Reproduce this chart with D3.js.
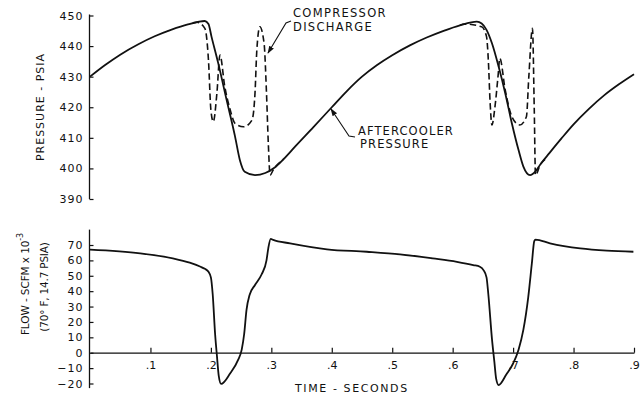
<!DOCTYPE html>
<html>
<head>
<meta charset="utf-8">
<script src="https://cdn.jsdelivr.net/npm/d3@7"></script>
<style>
  body { margin: 0; background: #fff; }
  text { font-family: "DejaVu Sans", sans-serif; fill: #111; }
</style>
</head>
<body>
<script>
// aftercooler pressure (solid), psia
var pressureTime = [0, 0.025, 0.05, 0.08, 0.107, 0.135, 0.162, 0.19, 0.196, 0.201, 0.212, 0.226, 0.240, 0.248, 0.256, 0.273, 0.29, 0.305, 0.32, 0.34, 0.37, 0.40, 0.425, 0.45, 0.475, 0.50, 0.53, 0.557, 0.585, 0.612, 0.640, 0.648, 0.656, 0.665, 0.676, 0.687, 0.698, 0.709, 0.717, 0.728, 0.737, 0.745, 0.76, 0.78, 0.80, 0.825, 0.85, 0.875, 0.9];
var aftercooler  = [430, 433.8, 437.2, 440.6, 443.2, 445.4, 447.1, 448.2, 447.2, 443.1, 434.5, 422.4, 410.4, 402.7, 398.9, 397.8, 398.5, 400.2, 403, 407.3, 413.6, 420, 425.3, 430, 433.8, 437, 440.3, 442.8, 445, 446.8, 448, 447.4, 445.3, 440.9, 433.3, 424.6, 414.7, 406, 400.6, 397.8, 399, 401.3, 405, 409.8, 414.4, 419.4, 423.8, 427.5, 430.8];

// compressor discharge (dashed), where it leaves the aftercooler curve
var dischargeTime1 = [0.170, 0.177, 0.190, 0.196, 0.200, 0.204, 0.210, 0.215, 0.223, 0.232, 0.240, 0.254, 0.268, 0.273, 0.276, 0.281, 0.288, 0.292, 0.295, 0.298, 0.303, 0.317];
var discharge1     = [447.6, 447.8, 445.8, 435.4, 419.1, 415.3, 424.7, 437.1, 426.7, 419.1, 414.7, 413.6, 415.8, 424.7, 438.7, 446.3, 440.9, 424.6, 408.2, 397.8, 399.5, 402.5];
var dischargeTime2 = [0.612, 0.620, 0.648, 0.656, 0.659, 0.662, 0.665, 0.670, 0.675, 0.678, 0.687, 0.698, 0.711, 0.722, 0.726, 0.732, 0.735, 0.737, 0.745, 0.753];
var discharge2     = [446.8, 447.2, 446.3, 443.1, 435.4, 421.3, 414.2, 420.2, 430, 436, 425.6, 416.9, 414.2, 416.9, 430, 445.8, 419.1, 397.8, 401.3, 403];

// flow, scfm x 10^-3
var flowTime = [0, 0.083, 0.137, 0.165, 0.182, 0.190, 0.196, 0.200, 0.203, 0.207, 0.210, 0.213, 0.217, 0.232, 0.245, 0.251, 0.255, 0.259, 0.264, 0.273, 0.284, 0.292, 0.295, 0.299, 0.303, 0.331, 0.392, 0.458, 0.513, 0.567, 0.607, 0.634, 0.645, 0.651, 0.656, 0.659, 0.665, 0.669, 0.672, 0.676, 0.689, 0.700, 0.709, 0.717, 0.725, 0.731, 0.735, 0.737, 0.761, 0.811, 0.855, 0.899];
var flow     = [67, 64.6, 61.3, 58.5, 56, 54.5, 52.6, 49, 38, 12, -2, -15, -20.3, -13.4, -4.7, 2, 12, 28, 37.5, 44, 51, 60, 68, 74, 73.3, 71.1, 67.2, 65.6, 63.9, 61.3, 59.1, 57, 55.9, 53.7, 49, 38, 9, -6, -17, -21, -14, -7, 2, 15, 36, 58, 72.5, 73.5, 71.1, 67.8, 66.3, 65.6];

// tick labels
var pressureTicks = [390, 400, 410, 420, 430, 440, 450];
var flowTicks = [-20, -10, 0, 10, 20, 30, 40, 50, 60, 70];
var timeTicks = [0.1, 0.2, 0.3, 0.4, 0.5, 0.6, 0.7, 0.8, 0.9];
var timeLabels = [".1", ".2", ".3", ".4", ".5", ".6", ".7", ".8", ".9"];

var width = 642, height = 399;

var svg = d3.select("body").append("svg")
  .attr("width", width)
  .attr("height", height);

// arrowhead for the leader lines
svg.append("defs").append("marker")
  .attr("id", "arrow")
  .attr("viewBox", "0 0 10 10")
  .attr("refX", 9).attr("refY", 5)
  .attr("markerWidth", 7).attr("markerHeight", 7)
  .attr("orient", "auto")
  .append("path")
  .attr("d", "M0,1.5L10,5L0,8.5z")
  .attr("fill", "#111");

// scales
var x = d3.scaleLinear().domain([0, 0.9]).range([90, 634]);
var yP = d3.scaleLinear().domain([390, 450]).range([199, 15.5]);
var yF = d3.scaleLinear().domain([-20, 70]).range([383.5, 245]);

// ---- top: pressure ----
var pAxis = svg.append("g")
  .attr("transform", "translate(89.5,0)")
  .call(d3.axisLeft(yP).tickValues(pressureTicks).tickSize(-4).tickSizeOuter(0).tickPadding(6));
pAxis.select(".domain").remove();
pAxis.append("line")
  .attr("y1", yP(450) - 1).attr("y2", yP(390))
  .attr("stroke", "#111").attr("stroke-width", 1.3);
pAxis.selectAll(".tick line").attr("stroke", "#111").attr("stroke-width", 1.2);
pAxis.selectAll(".tick text")
  .style("font-family", "DejaVu Sans").style("font-size", "11px")
  .style("letter-spacing", "1px").attr("fill", "#111");

var pLine = d3.line()
  .x(function(d){ return x(d[0]); })
  .y(function(d){ return yP(d[1]); })
  .curve(d3.curveMonotoneX);

svg.append("path")
  .datum(d3.zip(pressureTime, aftercooler))
  .attr("d", pLine)
  .attr("fill", "none").attr("stroke", "#111").attr("stroke-width", 1.8);

[d3.zip(dischargeTime1, discharge1), d3.zip(dischargeTime2, discharge2)].forEach(function(seg){
  svg.append("path")
    .datum(seg)
    .attr("d", pLine)
    .attr("fill", "none").attr("stroke", "#111").attr("stroke-width", 1.6)
    .attr("stroke-dasharray", "6.5,3.5");
});

svg.append("text")
  .attr("transform", "translate(40,107) rotate(-90)")
  .attr("text-anchor", "middle").attr("dominant-baseline", "central")
  .style("font-size", "11px").style("letter-spacing", "1px")
  .text("PRESSURE - PSIA");

// annotations
svg.append("text").attr("x", 293).attr("y", 17)
  .style("font-size", "11.5px").style("letter-spacing", "1.3px").text("COMPRESSOR");
svg.append("text").attr("x", 293).attr("y", 31)
  .style("font-size", "11.5px").style("letter-spacing", "1.3px").text("DISCHARGE");
svg.append("path")
  .attr("d", "M291,21L286,23L268,53")
  .attr("fill", "none").attr("stroke", "#111").attr("stroke-width", 1.1)
  .attr("marker-end", "url(#arrow)");

svg.append("text").attr("x", 358).attr("y", 135)
  .style("font-size", "11.5px").style("letter-spacing", "1.1px").text("AFTERCOOLER");
svg.append("text").attr("x", 360).attr("y", 148)
  .style("font-size", "11.5px").style("letter-spacing", "1.1px").text("PRESSURE");
svg.append("path")
  .attr("d", "M355,137L349,136L331,109")
  .attr("fill", "none").attr("stroke", "#111").attr("stroke-width", 1.1)
  .attr("marker-end", "url(#arrow)");

// ---- bottom: flow ----
var fAxis = svg.append("g")
  .attr("transform", "translate(89.5,0)")
  .call(d3.axisLeft(yF).tickValues(flowTicks).tickSize(-4).tickSizeOuter(0).tickPadding(6));
fAxis.select(".domain").remove();
fAxis.append("line")
  .attr("y1", yF(80)).attr("y2", yF(-23))
  .attr("stroke", "#111").attr("stroke-width", 1.3);
fAxis.selectAll(".tick line").attr("stroke", "#111").attr("stroke-width", 1.2);
fAxis.selectAll(".tick text")
  .style("font-family", "DejaVu Sans").style("font-size", "11px")
  .style("letter-spacing", "1px").attr("fill", "#111");

var tAxis = svg.append("g")
  .attr("transform", "translate(0," + yF(0) + ")")
  .call(d3.axisBottom(x).tickValues(timeTicks)
    .tickFormat(function(d, i){ return timeLabels[i]; })
    .tickSize(-5).tickSizeOuter(0).tickPadding(8));
tAxis.select(".domain").attr("stroke", "#111").attr("stroke-width", 1.3);
tAxis.selectAll(".tick line").attr("stroke", "#111").attr("stroke-width", 1.2);
tAxis.selectAll(".tick text")
  .style("font-family", "DejaVu Sans").style("font-size", "11px").attr("fill", "#111");

var fLine = d3.line()
  .x(function(d){ return x(d[0]); })
  .y(function(d){ return yF(d[1]); })
  .curve(d3.curveMonotoneX);

svg.append("path")
  .datum(d3.zip(flowTime, flow))
  .attr("d", fLine)
  .attr("fill", "none").attr("stroke", "#111").attr("stroke-width", 1.8);

var fl = svg.append("text")
  .attr("transform", "translate(25,284) rotate(-90)")
  .attr("text-anchor", "middle").attr("dominant-baseline", "central")
  .style("font-size", "10.5px").style("letter-spacing", "-0.1px");
fl.append("tspan").text("FLOW - SCFM x 10");
fl.append("tspan").attr("dy", -5).style("font-size", "8px").text("-3");

svg.append("text")
  .attr("transform", "translate(44,287) rotate(-90)")
  .attr("text-anchor", "middle").attr("dominant-baseline", "central")
  .style("font-size", "10.5px").style("letter-spacing", "-0.2px")
  .text("(70° F, 14.7 PSIA)");

svg.append("text").attr("x", 295).attr("y", 392)
  .style("font-size", "11px").style("letter-spacing", "1.6px")
  .text("TIME - SECONDS");
</script>
</body>
</html>
